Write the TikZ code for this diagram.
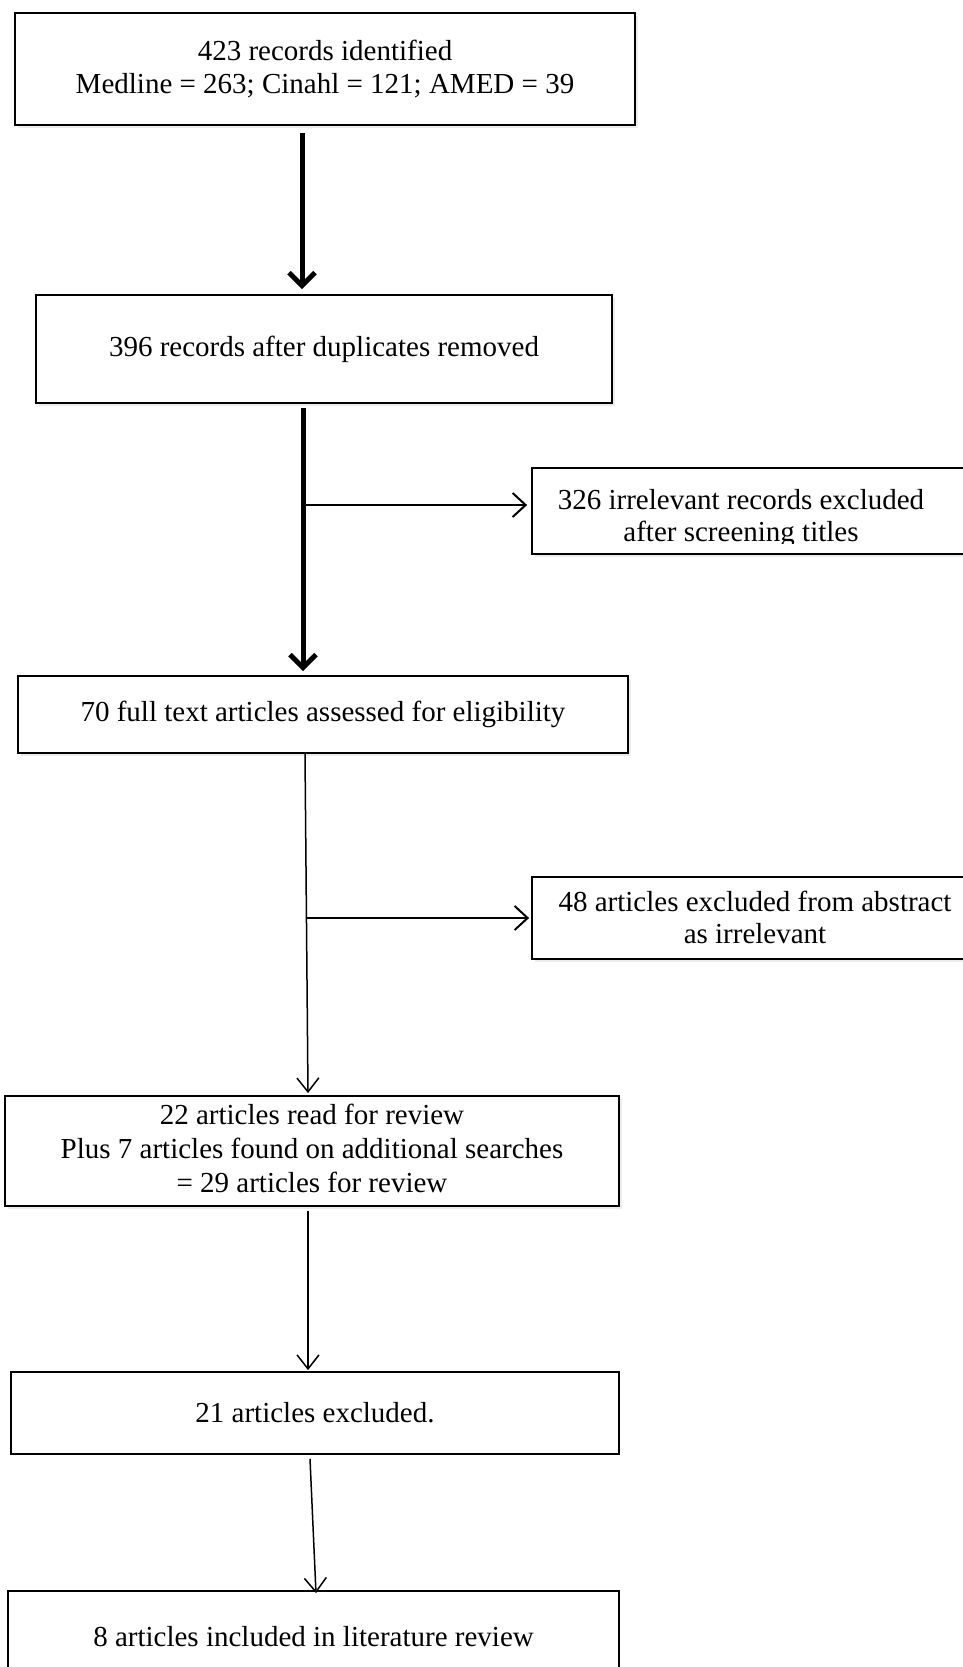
\documentclass[tikz,border=0pt]{standalone}
\usepackage{fontspec}
\setmainfont{Liberation Serif}
\usetikzlibrary{arrows.meta,calc,shadows}
\tikzset{
  x=1pt, y=-1pt,
  plainbox/.style={draw, line width=1.8pt, fill=white, align=center, inner sep=0pt,
    font=\fontsize{29}{33}\selectfont},
  box/.style={plainbox,
    drop shadow={shadow xshift=3pt, shadow yshift=-3pt, opacity=0.15}},
  txt/.style={align=center, inner sep=0pt, font=\fontsize{29}{32}\selectfont},
  thickarrow/.style={line width=5pt, -{Straight Barb[length=13pt,width=26pt]}},
  thinarrow/.style={line width=1.5pt, -{Straight Barb[length=14pt,width=22pt]}},
  brancharrow/.style={line width=2pt, -{Straight Barb[length=13pt,width=24pt]}},
}
\begin{document}
\begin{tikzpicture}
\useasboundingbox (0,0) rectangle (963,1667);
\clip (0,0) rectangle (963,1667);
\fill[white] (0,0) rectangle (963,1667);

% main boxes
\node[box, minimum width=620pt, minimum height=112pt] (box1) at (325,69)
  {423 records identified\\Medline = 263; Cinahl = 121; AMED = 39};
\node[box, minimum width=576pt, minimum height=108pt] (box2) at (324,349)
  {396 records after duplicates removed};
\node[box, minimum width=610pt, minimum height=77pt] (box3) at (323,714.5)
  {70 full text articles assessed for eligibility};
\node[box, minimum width=614pt, minimum height=110pt] (box4) at (312,1151) {};
\node[txt, font=\fontsize{29}{34}\selectfont] (box4t) at (312,1148)
  {22 articles read for review\\Plus 7 articles found on additional searches\\= 29 articles for review};
\node[plainbox, minimum width=608pt, minimum height=82pt] (box5) at (315,1413)
  {21 articles excluded.};
\node[plainbox, minimum width=611pt, minimum height=92pt] (box6) at (313.5,1637)
  {8 articles included in literature review};

% side boxes
\node[box, minimum width=434pt, minimum height=86pt] (side1) at (749,511) {};
\begin{scope}
  \clip (532,468) rectangle (966,543);
  \node[txt] (side1t) at (741,519) {326 irrelevant records excluded\\after screening titles};
\end{scope}
\node[box, minimum width=434pt, minimum height=82pt] (side2) at (749,918) {};
\node[txt] (side2t) at (755,917) {48 articles excluded from abstract\\as irrelevant};

% connectors
\draw[thickarrow] ($(box1.south)+(-23,7)$) -- ($(box2.north)+(-22,-5)$);
\draw[thickarrow] ($(box2.south)+(-21,4)$) -- ($(box3.north)+(-20,-4)$);
\coordinate (b1) at (305,505);
\draw[brancharrow] (b1) -- ($(b1 -| side1.west)+(-4,0)$);

\draw[thinarrow] ($(box3.south)+(-18,0)$) -- ($(box4.north)+(-4,-2)$);
\coordinate (b2) at (307,918);
\draw[brancharrow] (b2) -- ($(b2 -| side2.west)+(-2,0)$);

\draw[thinarrow] ($(box4.south)+(-4,4)$) -- ($(box5.north)+(-7,-1)$);
\draw[thinarrow] ($(box5.south)+(-5,4)$) -- ($(box6.north)+(2.5,3)$);
\end{tikzpicture}
\end{document}
